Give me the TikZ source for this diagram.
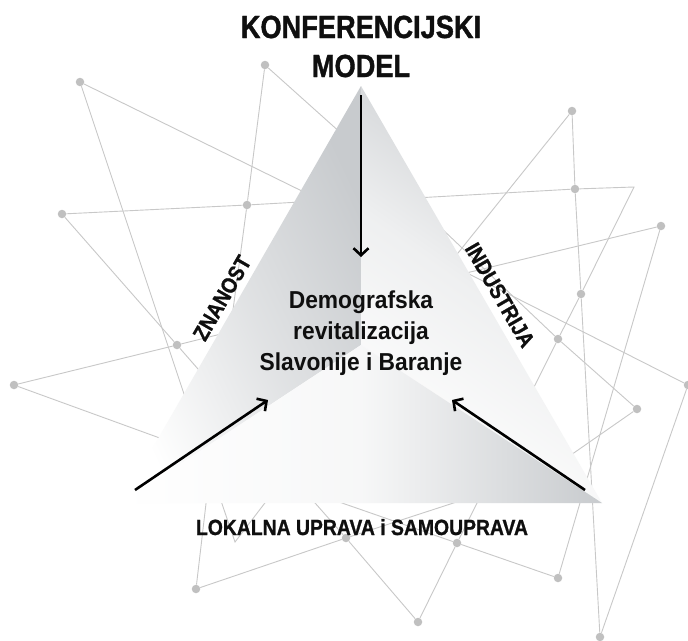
\documentclass[tikz,border=0pt]{standalone}
\usepackage{fontspec}
\setmainfont{Liberation Sans}
\newfontfamily\hfont[FakeStretch=0.85,FakeBold=1.2]{Liberation Sans}
\newfontfamily\sfont[FakeStretch=0.88,FakeBold=1.0]{Liberation Sans}
\newfontfamily\midfont[FakeStretch=0.93]{Liberation Sans}
\usetikzlibrary{arrows.meta}
\definecolor{netgray}{RGB}{200,200,200}
\definecolor{dotgray}{RGB}{192,192,192}
\definecolor{facegray}{RGB}{200,203,206}
\definecolor{textblack}{RGB}{15,15,15}
\begin{document}
\begin{tikzpicture}[x=1pt,y=-1pt,
  net/.style={draw=netgray,line width=0.9pt},
  dot/.style={circle,fill=dotgray,draw=none,inner sep=0pt,minimum size=8.5pt},
  bigarrow/.style={line width=2.6pt,-{Straight Barb[length=7pt,width=15pt]}},
  titletext/.style={font=\hfont\bfseries\fontsize{32}{32}\selectfont,anchor=base,text=textblack},
  sidetext/.style={font=\sfont\bfseries\fontsize{22}{22}\selectfont,text=textblack},
  centertext/.style={font=\midfont\bfseries\fontsize{24.5}{31}\selectfont,align=center,text=textblack}]
\useasboundingbox (0,0) rectangle (688,640);
\fill[white] (0,0) rectangle (688,640);
% network dots
\node[dot] (A) at (80,82) {};
\node[dot] (B) at (265,65) {};
\node[dot] (C) at (62,214) {};
\node[dot] (D) at (247,205) {};
\node[dot] (E) at (177,345) {};
\node[dot] (F) at (14,385) {};
\node[dot] (G) at (572,111) {};
\node[dot] (H) at (575,189) {};
\node[dot] (I) at (661,226) {};
\node[dot] (J) at (581,294) {};
\node[dot] (K) at (558,339) {};
\node[dot] (M) at (637,409) {};
\node[dot] (N) at (688,385) {};
\node[dot] (O) at (558,578) {};
\node[dot] (P) at (600,637) {};
\node[dot] (Q) at (457,543) {};
\node[dot] (R) at (418,622) {};
\node[dot] (S) at (346,538) {};
\node[dot] (T) at (196,589) {};
% free ends (hidden under the triangle) and bends
\coordinate (a1) at (310,195);
\coordinate (a2) at (186,400);
\coordinate (b1) at (231,325);
\coordinate (b2) at (342,134);
\coordinate (c1) at (300,202);
\coordinate (c2) at (205,377);
\coordinate (f1) at (225,333);
\coordinate (f2) at (168,441);
\coordinate (g1) at (454,258);
\coordinate (h1) at (415,198);
\coordinate (h2) at (634,187);
\coordinate (k1) at (530,395);
\coordinate (i1) at (462,274);
\coordinate (e1) at (440,227);
\coordinate (e2) at (465,272);
\coordinate (m1) at (568,457);
\coordinate (t1) at (207,495);
\coordinate (s1) at (478,495);
\coordinate (s2) at (308,495);
\coordinate (q1) at (481,495);
\coordinate (q2) at (319,495);
\coordinate (v1) at (219,495);
\coordinate (vv) at (235,542);
\coordinate (v2) at (271,495);
% network lines
\draw[net] (A) -- (a1);
\draw[net] (A) -- (a2);
\draw[net] (B) -- (D) -- (b1);
\draw[net] (B) -- (b2);
\draw[net] (C) -- (D) -- (c1);
\draw[net] (C) -- (E) -- (c2);
\draw[net] (F) -- (E) -- (f1);
\draw[net] (F) -- (f2);
\draw[net] (G) -- (H) -- (J) -- (P);
\draw[net] (G) -- (g1);
\draw[net] (h1) -- (H) -- (h2) -- (J) -- (K) -- (k1);
\draw[net] (I) -- (i1);
\draw[net] (I) -- (O);
\draw[net] (e1) -- (K) -- (M);
\draw[net] (e2) -- (N);
\draw[net] (M) -- (m1);
\draw[net] (N) -- (P);
\draw[net] (T) -- (t1);
\draw[net] (T) -- (S) -- (s1);
\draw[net] (S) -- (R);
\draw[net] (S) -- (s2);
\draw[net] (R) -- (Q) -- (q1);
\draw[net] (q2) -- (Q) -- (O);
\draw[net] (v1) -- (vv) -- (v2);
% pyramid
\coordinate (Ap) at (361,86);
\coordinate (BL) at (121,503);
\coordinate (BR) at (602,503);
\coordinate (Ce) at (361,345);
\shade[top color=facegray, bottom color=white, middle color=white!45!facegray, shading angle=-65] (Ap) -- (Ce) -- (BL) -- cycle;
\shade[top color=facegray, bottom color=white, middle color=white!70!facegray, shading angle=-35] (Ap) -- (BR) -- (Ce) -- cycle;
\shade[left color=white, right color=facegray, middle color=white!85!facegray] (BL) -- (BR) -- (Ce) -- cycle;
% texts
\node[titletext] (title1) at (361,38) {KONFERENCIJSKI};
\node[titletext] (title2) at (361,77) {MODEL};
\node[centertext] (centre) at (361,333) {Demografska\\revitalizacija\\Slavonije i Baranje};
\node[sidetext,rotate=60] (znanost) at (222,298) {ZNANOST};
\node[sidetext,rotate=-60] (industrija) at (500,295) {INDUSTRIJA};
\node[sidetext,anchor=base] (lokalna) at (362,535) {LOKALNA UPRAVA i SAMOUPRAVA};
% arrows
\coordinate (d0) at (361,95);
\coordinate (d1) at (361,257);
\coordinate (l0) at (135,490);
\coordinate (l1) at (268,400);
\coordinate (r0) at (585,490);
\coordinate (r1) at (452,400);
\draw[bigarrow] (d0) -- (d1);
\draw[bigarrow] (l0) -- (l1);
\draw[bigarrow] (r0) -- (r1);
\end{tikzpicture}
\end{document}
